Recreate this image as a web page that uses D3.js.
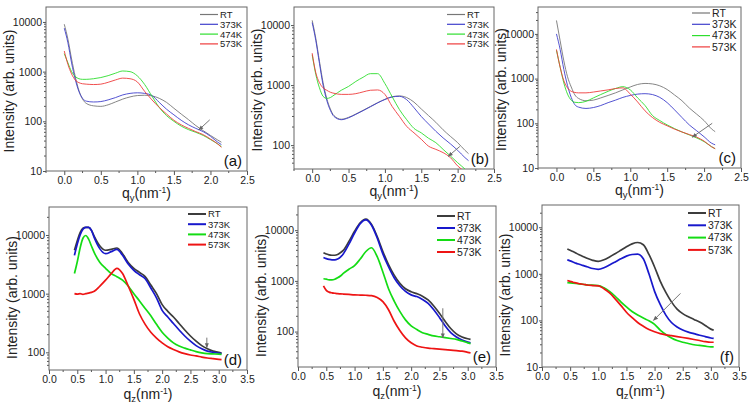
<!DOCTYPE html>
<html><head><meta charset="utf-8">
<script src="https://cdn.jsdelivr.net/npm/d3@7"></script>
<style>body{margin:0;background:#fff}svg{display:block}</style>
</head><body>
<svg id="c" width="749" height="407"></svg>
<script>
// ---------- data ----------
const legendA = ["RT","373K","474K","573K"];
const legendStd = ["RT","373K","473K","573K"];
const xTicksTop = [0,0.5,1,1.5,2,2.5];
const xTicksBottom = [0,0.5,1,1.5,2,2.5,3,3.5];
const yTicksMajor = [10,100,1000,10000];

// q_y grid (top row)
const qTop = [0,0.05,0.1,0.15,0.2,0.25,0.3,0.4,0.5,0.6,0.7,0.8,0.9,1.0,1.1,1.2,1.3,1.4,1.5,1.6,1.7,1.8,1.9,2.0,2.1,2.15];
// panel (a)
const aRT  = [9000,4500,1800,800,420,280,230,205,200,215,245,280,310,330,335,325,290,240,183,140,108,82,65,52,42,38];
const a373 = [7500,3800,1500,700,400,290,255,245,250,270,300,340,365,375,365,330,240,175,135,105,85,72,62,50,38,34];
const a474 = [2300,1500,1000,800,720,700,700,720,760,830,930,1030,1000,820,550,320,190,130,100,80,68,60,52,43,35,31];
const a573 = [2600,1400,900,680,600,570,560,550,560,610,680,740,720,620,400,270,190,140,105,85,72,62,54,44,35,30];
// panel (b)
const bRT  = [12000,6000,2500,1100,600,400,310,270,290,330,380,440,510,580,640,660,620,520,400,310,240,180,140,110,82,72];
const b373 = [11000,5500,2300,1000,560,380,300,265,285,325,375,435,505,575,635,650,570,420,300,225,170,132,105,82,62,55];
const b473 = [3200,1500,900,650,600,620,680,820,950,1150,1350,1550,1550,1060,640,390,265,190,160,130,110,85,66,51,40,35];
const b573 = [3400,1600,1100,900,820,760,730,700,700,720,770,820,830,700,440,300,205,160,125,96,85,75,62,45,36,32];
// panel (c)
const cRT  = [20000,7000,2500,1100,650,430,360,320,330,370,420,480,560,650,740,780,760,690,570,430,320,220,160,115,75,65];
const c373 = [10000,4500,1600,700,380,260,230,215,225,250,290,330,380,420,450,460,440,380,290,200,135,92,68,50,36,33];
const c473 = [4300,1800,800,450,330,295,290,310,370,440,520,600,660,560,370,250,150,115,92,76,64,55,47,39,30,27];
const c573 = [4500,1800,900,620,520,490,480,480,500,530,560,600,620,450,300,190,135,105,88,74,64,56,49,40,30,27];

// q_z grid (bottom row)
const qBot = [0.45,0.5,0.55,0.6,0.65,0.7,0.75,0.8,0.9,1.0,1.1,1.2,1.3,1.4,1.5,1.6,1.7,1.8,1.9,2.0,2.1,2.2,2.3,2.4,2.5,2.6,2.7,2.8,2.9,3.0,3.05];
// panel (d)
const dRT  = [5500,8000,11000,13000,13500,13500,12000,9500,6500,5500,5700,6000,4800,3400,2700,2300,1950,1400,1000,650,500,400,310,240,190,155,130,115,105,100,97];
const d373 = [4500,7000,10000,12500,13500,13500,12000,9000,5800,4800,5200,5700,4500,3200,2500,2100,1800,1250,850,520,400,310,240,190,155,130,115,105,100,97,95];
const d473 = [2200,3500,6000,8800,9800,8500,6500,5000,3400,2700,2200,1950,1700,1350,1000,750,560,420,300,220,175,145,128,118,110,103,98,95,94,93,92];
const d573 = [1000,980,1000,970,1000,1020,1050,1100,1350,1700,2200,2700,2200,1350,800,450,300,220,175,145,125,112,102,95,90,87,83,80,78,76,75];
// panel (e)
const eRT  = [3600,3400,3250,3200,3200,3300,3600,4000,6000,9500,14000,16500,13000,7500,3800,2100,1300,900,700,610,560,500,420,320,230,160,115,90,78,72,70];
const e373 = [2900,2750,2650,2600,2600,2700,2950,3400,5300,8800,13500,16000,12500,7000,3400,1900,1150,800,620,530,490,430,360,270,190,130,95,78,68,62,60];
const e473 = [1100,1080,1050,1050,1080,1150,1250,1400,1700,2000,2700,3800,4500,3000,1500,700,400,250,170,130,110,95,88,82,79,76,73,70,65,60,58];
const e573 = [800,650,600,580,570,560,555,550,540,530,525,520,510,470,390,270,160,105,75,60,52,49,47,46,45,44,43,42,41,39,38];
// panel (f)
const fRT  = [3400,3200,3000,2800,2600,2450,2300,2150,1950,1850,2000,2300,2700,3200,3800,4400,4700,4200,2600,1400,700,400,250,175,140,120,105,92,78,65,62];
const f373 = [2000,1900,1800,1700,1620,1550,1480,1420,1300,1250,1350,1550,1800,2100,2400,2600,2650,2100,1000,420,220,130,90,72,62,56,52,48,45,42,41];
const f473 = [650,640,630,620,610,600,590,580,570,560,500,420,330,250,195,155,130,112,98,82,62,50,42,37,34,32,30,29,28,27,27];
const f573 = [720,690,660,640,620,605,590,575,560,550,480,390,290,210,150,115,90,75,64,57,52,49,47,45,43,41,39,37,35,34,34];

// annotation arrows [q1, I1, q2, I2]
const arrowA = [1.99,107,1.84,67];
const arrowB = [2.03,95,1.87,65];
const arrowC = [2.11,100,1.84,49];
const arrowD = [2.79,178,2.79,120];
const arrowE = [2.56,288,2.56,75];
const arrowF = [2.46,380,1.98,100];

// ---------- layout / styling ----------
const topColors = ["#777777","#4040cc","#2ede2e","#ee3c3c"];
const botColors = ["#3c3c3c","#1818cc","#14dc14","#ee1414"];
const FONT = "'Liberation Sans', Arial, sans-serif";

const panels = [
 {label:"(a)", q:qTop, s:[aRT,a373,a474,a573], names:legendA, px:[46,247], py:[7,171], xd:[-0.25,2.5], yd:[10,20000], xt:xTicksTop, sub:"y", lw:0.9, col:topColors, leg:[200,14.5,9.8,9.5], arrow:arrowA},
 {label:"(b)", q:qTop, s:[bRT,b373,b473,b573], names:legendStd, px:[294,494], py:[7,169], xd:[-0.25,2.5], yd:[40,20000], xt:xTicksTop, sub:"y", lw:0.9, col:topColors, leg:[447,14.5,9.8,9.5], arrow:arrowB},
 {label:"(c)", q:qTop, s:[cRT,c373,c473,c573], names:legendStd, px:[538,741], py:[7,168], xd:[-0.25,2.5], yd:[10,40000], xt:xTicksTop, sub:"y", lw:0.9, col:topColors, leg:[692,13,11.3,10.5], arrow:arrowC},
 {label:"(d)", q:qBot, s:[dRT,d373,d473,d573], names:legendStd, px:[49,247], py:[207,370], xd:[0,3.5], yd:[50,30000], xt:xTicksBottom, sub:"z", lw:1.7, col:botColors, leg:[188,214,10.2,9.5], arrow:arrowD},
 {label:"(e)", q:qBot, s:[eRT,e373,e473,e573], names:legendStd, px:[298,496], py:[206,367], xd:[0,3.5], yd:[20,30000], xt:xTicksBottom, sub:"z", lw:1.7, col:botColors, leg:[437,216,12,10.5], arrow:arrowE},
 {label:"(f)", q:qBot, s:[fRT,f373,f473,f573], names:legendStd, px:[542,739], py:[205,367], xd:[0,3.5], yd:[10,30000], xt:xTicksBottom, sub:"z", lw:1.7, col:botColors, leg:[688,213,12.3,10.5], arrow:arrowF}
];

const svg = d3.select("#c").style("font-family", FONT);
const defs = svg.append("defs");
defs.append("marker").attr("id","ah").attr("viewBox","0 0 10 10").attr("refX",9).attr("refY",5)
  .attr("markerWidth",5).attr("markerHeight",5).attr("orient","auto")
  .append("path").attr("d","M0,1 L10,5 L0,9 z").attr("fill","#666");

panels.forEach((p, pi) => {
  const bottomRow = pi >= 3;
  const x = d3.scaleLinear().domain(p.xd).range(p.px);
  const y = d3.scaleLog().domain(p.yd).range([p.py[1], p.py[0]]);
  const g = svg.append("g");
  const cid = "clip" + pi;
  defs.append("clipPath").attr("id", cid).append("rect")
    .attr("x", p.px[0]).attr("y", p.py[0]).attr("width", p.px[1]-p.px[0]).attr("height", p.py[1]-p.py[0]);

  // axes
  const xAxis = d3.axisBottom(x).tickValues(p.xt).tickFormat(d3.format(".1f")).tickSize(4).tickPadding(2);
  const gx = g.append("g").attr("transform", `translate(0,${p.py[1]})`).call(xAxis);
  const xMinor = d3.range(p.xd[0], p.xd[1]+1e-9, 0.25).filter(v => !p.xt.some(t => Math.abs(t-v)<1e-6));
  g.append("g").selectAll("line").data(xMinor).join("line")
    .attr("x1", d=>x(d)).attr("x2", d=>x(d)).attr("y1", p.py[1]).attr("y2", p.py[1]+2)
    .attr("stroke","#555");
  const yt = yTicksMajor.filter(v => v>=p.yd[0] && v<=p.yd[1]);
  const yAxis = d3.axisLeft(y).tickValues(yt).tickFormat(d3.format("d")).tickSize(3).tickPadding(1);
  const gy = g.append("g").attr("transform", `translate(${p.px[0]},0)`).call(yAxis);
  const yMinor = [];
  for (let e=0; e<5; e++) for (let m=2; m<10; m++) { const v=m*Math.pow(10,e); if (v>p.yd[0] && v<p.yd[1]) yMinor.push(v); }
  g.append("g").selectAll("line").data(yMinor).join("line")
    .attr("x1", p.px[0]-2).attr("x2", p.px[0]).attr("y1", d=>y(d)).attr("y2", d=>y(d))
    .attr("stroke","#555");
  [gx, gy].forEach(a => {
    a.select(".domain").remove();
    a.selectAll(".tick line").attr("stroke","#555");
    a.selectAll("text").attr("font-size","10.5px").attr("fill","#222").attr("font-family", FONT);
  });
  // frame
  g.append("rect").attr("x", p.px[0]).attr("y", p.py[0]).attr("width", p.px[1]-p.px[0]).attr("height", p.py[1]-p.py[0])
    .attr("fill","none").attr("stroke","#666").attr("stroke-width",1);

  // curves
  const line = d3.line().curve(d3.curveMonotoneX);
  const plot = g.append("g").attr("clip-path", `url(#${cid})`);
  p.s.forEach((vals, i) => {
    const pts = p.q.map((qq, k) => [x(qq), y(vals[k])]);
    plot.append("path").attr("d", line(pts)).attr("fill","none")
      .attr("stroke", p.col[i]).attr("stroke-width", p.lw).attr("stroke-linejoin","round");
  });

  // arrow
  const a = p.arrow;
  g.append("line").attr("x1", x(a[0])).attr("y1", y(a[1])).attr("x2", x(a[2])).attr("y2", y(a[3]))
    .attr("stroke","#777").attr("stroke-width",1).attr("marker-end","url(#ah)");

  // legend
  const [lx, ly, ldy, lfs] = p.leg;
  p.names.forEach((n, i) => {
    const yy = ly + i*ldy;
    g.append("line").attr("x1", lx).attr("x2", lx+18).attr("y1", yy).attr("y2", yy)
      .attr("stroke", p.col[i]).attr("stroke-width", bottomRow ? 2 : 1.2);
    g.append("text").attr("x", lx+20).attr("y", yy+lfs*0.36).attr("font-size", lfs+"px").attr("fill","#222").text(n);
  });

  // panel label
  g.append("text").attr("x", p.px[1]-5).attr("y", p.py[1]-5).attr("text-anchor","end")
    .attr("font-size","15px").attr("fill","#111").text(p.label);

  // axis titles
  const yc = (p.py[0]+p.py[1])/2 + (bottomRow ? 9 : 2);
  g.append("text").attr("transform", `translate(${p.px[0]-37},${yc}) rotate(-90)`)
    .attr("text-anchor","middle").attr("dy","0.35em").attr("font-size","14px").attr("fill","#222")
    .text("Intensity (arb. units)");
  const xt = g.append("text").attr("x", (p.px[0]+p.px[1])/2).attr("y", p.py[1] + (bottomRow ? 29 : 27))
    .attr("text-anchor","middle").attr("font-size","14px").attr("fill","#222");
  xt.append("tspan").text("q");
  xt.append("tspan").attr("dy", 3).attr("font-size","9.5px").text(p.sub);
  xt.append("tspan").attr("dy", -3).text("(nm");
  xt.append("tspan").attr("dy", -5).attr("font-size","8.5px").text("-1");
  xt.append("tspan").attr("dy", 5).text(")");
});
</script>
</body></html>
